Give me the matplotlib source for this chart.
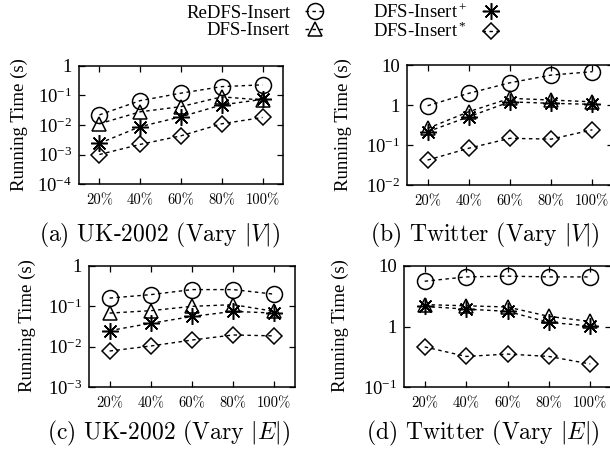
import numpy as np
import matplotlib
matplotlib.use("Agg")
import matplotlib.pyplot as plt
from matplotlib.lines import Line2D

plt.rcParams['font.family'] = ['Liberation Serif', 'DejaVu Serif']
plt.rcParams['mathtext.fontset'] = 'custom'
plt.rcParams['mathtext.rm'] = 'Liberation Serif'
plt.rcParams['mathtext.it'] = 'Liberation Serif:italic'

# data
pcts = ['20%', '40%', '60%', '80%', '100%']
series = ['ReDFS-Insert', 'DFS-Insert', 'DFS-Insert$^+$', 'DFS-Insert$^*$']

# (a) UK-2002, vary |V|
uk_v_redfs = [0.022, 0.067, 0.12, 0.20, 0.23]
uk_v_dfs = [0.011, 0.028, 0.042, 0.09, 0.07]
uk_v_plus = [0.0024, 0.0088, 0.019, 0.048, 0.074]
uk_v_star = [0.001, 0.0022, 0.0043, 0.011, 0.018]

# (b) Twitter, vary |V|
tw_v_redfs = [0.96, 1.96, 3.6, 5.6, 6.8]
tw_v_dfs = [0.26, 0.68, 1.47, 1.33, 1.2]
tw_v_plus = [0.215, 0.51, 1.2, 1.1, 1.04]
tw_v_star = [0.042, 0.083, 0.147, 0.14, 0.24]

# (c) UK-2002, vary |E|
uk_e_redfs = [0.16, 0.195, 0.26, 0.26, 0.2]
uk_e_dfs = [0.068, 0.078, 0.10, 0.11, 0.075]
uk_e_plus = [0.025, 0.038, 0.056, 0.075, 0.068]
uk_e_star = [0.0078, 0.0104, 0.0146, 0.0195, 0.0185]

# (d) Twitter, vary |E|
tw_e_redfs = [5.6, 6.6, 6.8, 6.6, 6.6]
tw_e_dfs = [2.3, 2.2, 2.1, 1.47, 1.21]
tw_e_plus = [2.15, 1.94, 1.78, 1.17, 1.02]
tw_e_star = [0.46, 0.32, 0.35, 0.32, 0.24]

yt_a = [1e-4, 1e-3, 1e-2, 1e-1, 1]
yl_a = ['10$^{-4}$', '10$^{-3}$', '10$^{-2}$', '10$^{-1}$', '1']
yt_b = [1e-2, 1e-1, 1, 10]
yl_b = ['10$^{-2}$', '10$^{-1}$', '1', '10']
yt_c = [1e-3, 1e-2, 1e-1, 1]
yl_c = ['10$^{-3}$', '10$^{-2}$', '10$^{-1}$', '1']
yt_d = [1e-1, 1, 10]
yl_d = ['10$^{-1}$', '1', '10']

captions = [r'(a) UK-2002 (Vary $|V|$)', r'(b) Twitter (Vary $|V|$)',
            r'(c) UK-2002 (Vary $|E|$)', r'(d) Twitter (Vary $|E|$)']

styles = [dict(marker='o', markersize=11.5),
          dict(marker='^', markersize=10.5),
          dict(marker=(8, 2, 0), markersize=12),
          dict(marker='D', markersize=8)]

W, H = 610, 451
fig = plt.figure(figsize=(6.1, 4.51), dpi=100)


def px_axes(left, top, right, bottom):
    return fig.add_axes([left / W, 1 - bottom / H, (right - left) / W, (bottom - top) / H])


panels = [
    (px_axes(79, 66, 283, 184), [uk_v_redfs, uk_v_dfs, uk_v_plus, uk_v_star], yt_a, yl_a),
    (px_axes(407, 65, 613, 185), [tw_v_redfs, tw_v_dfs, tw_v_plus, tw_v_star], yt_b, yl_b),
    (px_axes(89, 266, 295, 387), [uk_e_redfs, uk_e_dfs, uk_e_plus, uk_e_star], yt_c, yl_c),
    (px_axes(404, 266, 611, 387), [tw_e_redfs, tw_e_dfs, tw_e_plus, tw_e_star], yt_d, yl_d),
]

x = np.arange(1, len(pcts) + 1)
for ax, data, yt, yl in panels:
    for vals, st in zip(data, styles):
        ax.plot(x, vals, color='black', linestyle=(0, (2.5, 2.5)), linewidth=1.0,
                markerfacecolor='none', markeredgecolor='black', markeredgewidth=1.1, **st)
    ax.set_yscale('log')
    ax.set_ylim(yt[0], yt[-1])
    ax.set_xlim(0.5, 5.5)
    ax.minorticks_off()
    ax.set_yticks(yt, yl, fontsize=13.5)
    ax.set_xticks(x, pcts, fontfamily='cmr10', fontsize=10.5)
    ax.tick_params(direction='in', top=True, right=True, length=4, width=0.9)
    ax.tick_params(axis='x', pad=7)
    ax.tick_params(axis='y', pad=5)
    for s in ax.spines.values():
        s.set_linewidth(1.1)

# y labels
for xp, yp in [(19, 125), (343, 125), (27, 326), (340, 326)]:
    fig.text(xp / W, 1 - yp / H, 'Running Time (s)', rotation=90,
             ha='center', va='center', fontsize=13.5)

# captions
for cap, (xp, yp) in zip(captions, [(159, 235), (485, 235), (169, 433), (483, 433)]):
    fig.text(xp / W, 1 - yp / H, cap, ha='center', va='center', fontsize=17,
             fontfamily='cmr10', math_fontfamily='cm')

handles = [Line2D([], [], color='black', linestyle=(0, (2.5, 2.5)), linewidth=1.0,
                  markerfacecolor='none', markeredgecolor='black', markeredgewidth=1.1, **st)
           for st in styles]
fig.legend(handles, series, loc='upper left', bbox_to_anchor=(186 / W, 1 - 3 / H),
           ncol=2, frameon=False, markerfirst=False, fontsize=13.5,
           borderpad=0, borderaxespad=0, handlelength=1.0, handletextpad=0.8,
           columnspacing=2.6, labelspacing=0.02)

fig.savefig('out.png', dpi=100)
